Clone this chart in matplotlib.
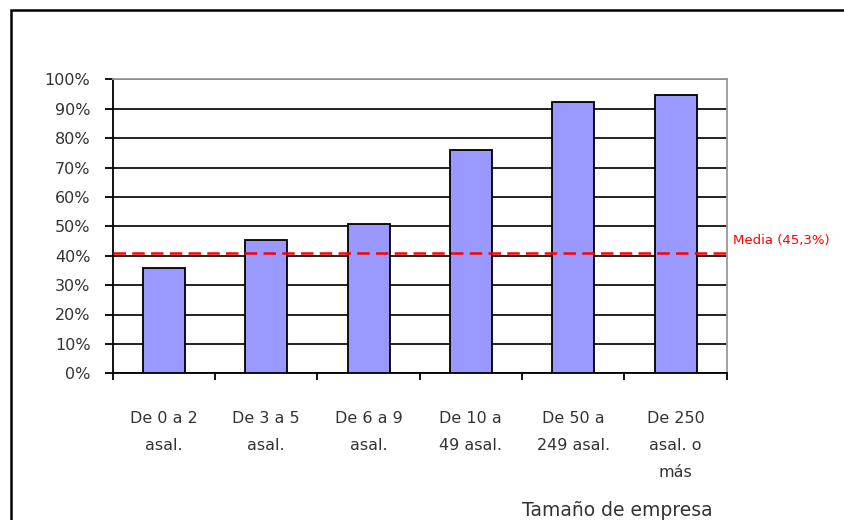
import matplotlib
matplotlib.use("Agg")
from matplotlib import pyplot as plt
from matplotlib.patches import Rectangle
from matplotlib.ticker import PercentFormatter

# data
categories = ["De 0 a 2\nasal.", "De 3 a 5\nasal.", "De 6 a 9\nasal.",
              "De 10 a\n49 asal.", "De 50 a\n249 asal.", "De 250\nasal. o\nmás"]
shares = [0.359, 0.453, 0.508, 0.760, 0.922, 0.947]
media_level = 0.409
media_label = "Media (45,3%)"
media_label_y = 0.451
x_title = "Tamaño de empresa"

plt.rcParams['font.family'] = ['DejaVu Sans']

fig = plt.figure(figsize=(8.45, 5.2), dpi=100)
ax = fig.add_axes([112.7 / 845, 1 - 373.3 / 520, 614 / 845, 294 / 520])

pos = list(range(len(categories)))
ax.bar(pos, shares, width=0.41, color="#9999FF", edgecolor="black",
       linewidth=1.3, zorder=3)
ax.axhline(media_level, color="#FF0000", linewidth=1.8, dashes=(5, 2.5), zorder=4)

ax.set_xlim(-0.5, len(categories) - 0.5)
ax.set_ylim(0, 1)

ax.set_yticks([i / 10 for i in range(11)])
ax.yaxis.set_major_formatter(PercentFormatter(1.0, decimals=0))
ax.yaxis.grid(True, color="#111111", linewidth=1.3, zorder=1)
ax.tick_params(axis="y", direction="out", length=6, width=1.3, pad=10,
               labelsize=11.5, labelcolor="#333333")

ax.set_xticks([p - 0.5 for p in pos] + [len(pos) - 0.5])
ax.set_xticklabels([])
ax.set_xticks(pos, minor=True)
ax.set_xticklabels(categories, minor=True, linespacing=2.0)
ax.tick_params(axis="x", which="major", direction="out", length=5, width=1.3)
ax.tick_params(axis="x", which="minor", length=0, pad=27.5, labelsize=11.5,
               labelcolor="#333333")

for side in ("left", "bottom"):
    ax.spines[side].set_color("black")
    ax.spines[side].set_linewidth(1.3)
for side in ("top", "right"):
    ax.spines[side].set_color("#999999")
    ax.spines[side].set_linewidth(1.3)

ax.text(1.01, media_label_y, media_label, transform=ax.get_yaxis_transform(),
        color="#FF0000", fontsize=9.5, va="center", ha="left")

fig.text(617 / 845, 1 - 511 / 520, x_title, ha="center", va="center",
         fontsize=13.5, color="#333333")

# outer frame
fig.patches.append(Rectangle((11 / 845, -0.1), 1.0, 1.1 - 10.5 / 520,
                             transform=fig.transFigure, fill=False,
                             edgecolor="black", linewidth=1.8))

fig.savefig("out.png", dpi=100)
